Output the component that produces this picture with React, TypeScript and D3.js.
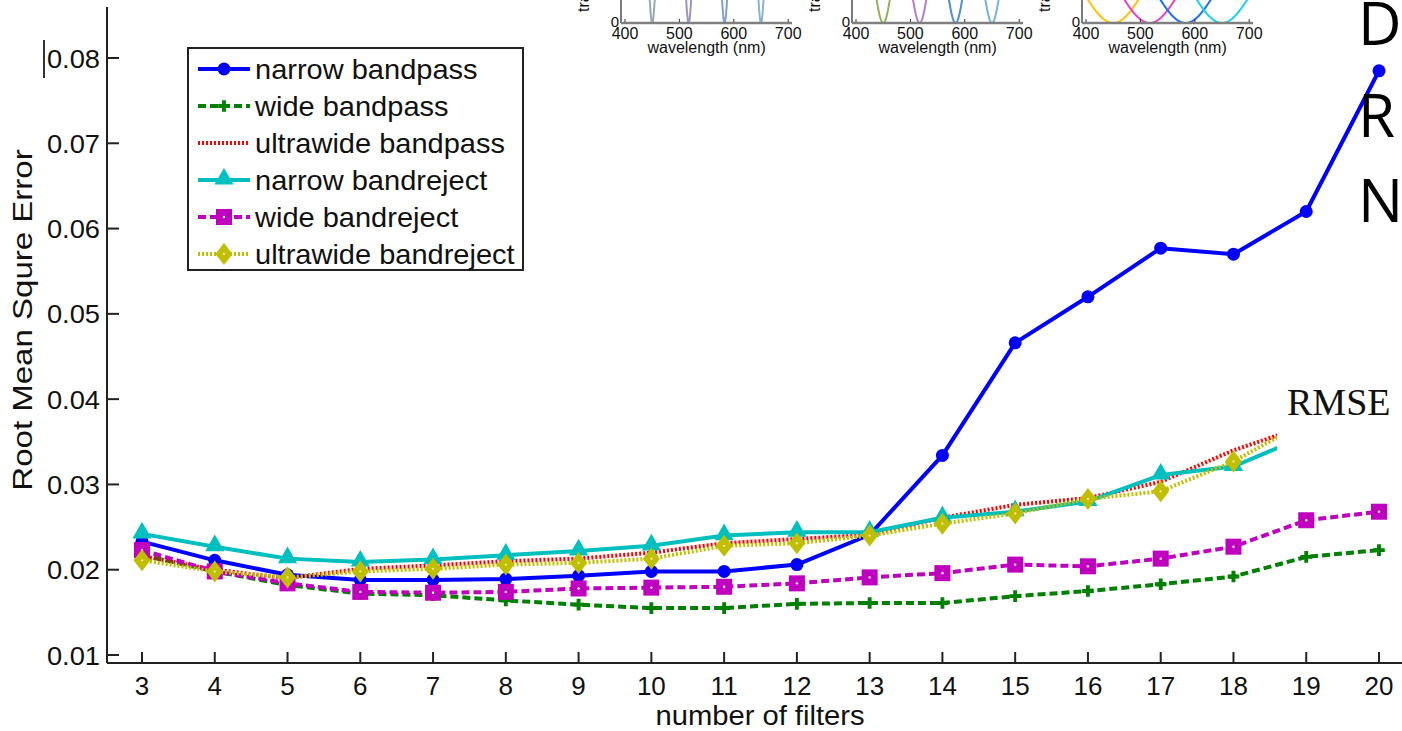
import React from 'react';
import * as d3 from 'd3';

// ---------- data ----------
const filterCounts = [3, 4, 5, 6, 7, 8, 9, 10, 11, 12, 13, 14, 15, 16, 17, 18, 19, 20];
const narrowBandpass = [0.0233, 0.0211, 0.0194, 0.0188, 0.0188, 0.0189, 0.0193, 0.0198, 0.0198, 0.0206, 0.0241, 0.0334, 0.0466, 0.052, 0.0577, 0.057, 0.062, 0.0785];
const wideBandpass = [0.0217, 0.0198, 0.0182, 0.0172, 0.017, 0.0164, 0.0159, 0.0155, 0.0155, 0.016, 0.0161, 0.0161, 0.0169, 0.0175, 0.0183, 0.0192, 0.0215, 0.0223];
const ultrawideBandpass = [0.0216, 0.02, 0.019, 0.0201, 0.0205, 0.021, 0.0213, 0.022, 0.0231, 0.0236, 0.0241, 0.0261, 0.0276, 0.0284, 0.0303, 0.034, 0.0369, 0.040];
const narrowBandreject = [0.0242, 0.0227, 0.0213, 0.0209, 0.0212, 0.0217, 0.0222, 0.0228, 0.0240, 0.0244, 0.0244, 0.0261, 0.0268, 0.028, 0.0311, 0.0321, 0.0357, 0.039];
const wideBandreject = [0.0223, 0.0198, 0.0184, 0.0174, 0.0173, 0.0174, 0.0178, 0.0179, 0.018, 0.0184, 0.0191, 0.0196, 0.0206, 0.0204, 0.0213, 0.0227, 0.0258, 0.0268];
const ultrawideBandreject = [0.0211, 0.0198, 0.0191, 0.0198, 0.0201, 0.0206, 0.0208, 0.0213, 0.0228, 0.0231, 0.024, 0.0254, 0.0266, 0.0283, 0.0292, 0.0327, 0.0374, 0.040];

const yTicks = [0.01, 0.02, 0.03, 0.04, 0.05, 0.06, 0.07, 0.08];
const seriesNames = ['narrow bandpass', 'wide bandpass', 'ultrawide bandpass', 'narrow bandreject', 'wide bandreject', 'ultrawide bandreject'];

// inset filter models
const insetCenters = [450, 517, 583, 650];
const insetTicks = [400, 500, 600, 700];
const insetWidths = [5.7, 15, 57];
const insetColors = [
  ['#93abb6', '#9d95c9', '#7fa1cf', '#8db2d6'],
  ['#8fb456', '#b57dca', '#4e8ed5', '#78b3da'],
  ['#ffc20a', '#e545c4', '#1f6ff2', '#16d3f5'],
];
const insetAxisX = [621, 852, 1082];

// ---------- styles ----------
const FONT = 'Liberation Sans, Arial, Helvetica, sans-serif';
const styles = [
  { color: '#0000ff', dash: null, marker: 'circle' },
  { color: '#008000', dash: '8 4', marker: 'cross' },
  { color: '#ff0000', dash: '2 2', marker: 'none' },
  { color: '#00bfbf', dash: null, marker: 'triangle' },
  { color: '#bf00bf', dash: '8 4', marker: 'square' },
  { color: '#bfbf00', dash: '2 2', marker: 'diamond' },
];
const seriesValues = [narrowBandpass, wideBandpass, ultrawideBandpass, narrowBandreject, wideBandreject, ultrawideBandreject];

function T({ x, y, size, anchor = 'start', sx = 1, rotate = 0, family = FONT, fill = '#111', children }: any) {
  return (
    <g transform={`translate(${x},${y}) rotate(${rotate}) scale(${sx},1)`}>
      <text x={0} y={0} fontSize={size} fontFamily={family} textAnchor={anchor} fill={fill}>
        {children}
      </text>
    </g>
  );
}

function Marker({ kind, x, y, color }: { kind: string; x: number; y: number; color: string }) {
  if (kind === 'circle') return <circle cx={x} cy={y} r={6.5} fill={color} />;
  if (kind === 'cross') {
    const p = d3.symbol().type(d3.symbolCross).size(75)() as string;
    return <path d={p} transform={`translate(${x},${y})`} fill={color} />;
  }
  if (kind === 'triangle') {
    const p = d3.symbol().type(d3.symbolTriangle).size(160)() as string;
    return <path d={p} transform={`translate(${x},${y - 1})`} fill={color} />;
  }
  if (kind === 'square') {
    return (
      <g>
        <rect x={x - 8} y={y - 8} width={16} height={16} fill={color} />
        <circle cx={x} cy={y} r={1.2} fill="#fff" />
      </g>
    );
  }
  if (kind === 'diamond') {
    return (
      <g>
        <path d={`M${x},${y - 11}L${x + 8.5},${y}L${x},${y + 11}L${x - 8.5},${y}Z`} fill={color} />
        <circle cx={x} cy={y} r={1.2} fill="#f4e0a0" />
      </g>
    );
  }
  return null;
}

function Inset({ idx }: { idx: number }) {
  const x0 = insetAxisX[idx];
  const xs = d3.scaleLinear().domain([392.6, 707]).range([x0, x0 + 171]);
  const ys = d3.scaleLinear().domain([0, 1]).range([23, -60]);
  const sigma = insetWidths[idx];
  const lambdas = d3.range(392.6, 707, 0.5);
  const clipId = `inset-clip-${idx}`;
  return (
    <g>
      <defs>
        <clipPath id={clipId}>
          <rect x={x0} y={0} width={171} height={23} />
        </clipPath>
      </defs>
      <g clipPath={`url(#${clipId})`}>
        {insetCenters.map((c, i) => {
          const l = d3
            .line<number>()
            .x((w) => xs(w))
            .y((w) => ys(1 - Math.exp(-((w - c) ** 2) / (2 * sigma * sigma))));
          return <path key={i} d={l(lambdas) as string} fill="none" stroke={insetColors[idx][i]} strokeWidth={2} />;
        })}
      </g>
      <line x1={x0} x2={x0} y1={0} y2={23} stroke="#222" strokeWidth={1.2} />
      <line x1={x0} x2={x0 + 171} y1={23} y2={23} stroke="#7f7f7f" strokeWidth={2.5} />
      {insetTicks.map((t) => (
        <g key={t}>
          <line x1={xs(t)} x2={xs(t)} y1={22} y2={19} stroke="#333" strokeWidth={1} />
          <text x={xs(t)} y={39} fontSize={16} fontFamily={FONT} textAnchor="middle" fill="#111">
            {t}
          </text>
        </g>
      ))}
      <text x={x0 - 2} y={27} fontSize={15} fontFamily={FONT} textAnchor="end" fill="#111">
        0
      </text>
      <text x={xs(550)} y={53} fontSize={16} fontFamily={FONT} textAnchor="middle" fill="#111">
        wavelength (nm)
      </text>
      <text transform={`translate(${x0 - 32},12) rotate(-90)`} fontSize={16} fontFamily={FONT} fill="#111">
        transmission
      </text>
    </g>
  );
}

export default function App() {
  const W = 1402;
  const H = 731;
  const x = d3.scaleLinear().domain([3, 20]).range([142, 1379]);
  const y = d3.scaleLinear().domain([0.01, 0.08]).range([655, 58]);
  const axisX = 107;
  const axisY = 663;

  const legendX = 188;
  const legendY = 48;
  const rowH = 37;

  return (
    <svg width={W} height={H} style={{ position: 'absolute', left: 0, top: 0, background: '#fff' }}>
      <rect x={0} y={0} width={W} height={H} fill="#fff" />
      {/* insets */}
      {[0, 1, 2].map((i) => (
        <Inset key={i} idx={i} />
      ))}

      {/* axes */}
      <line x1={axisX} x2={axisX} y1={7} y2={axisY} stroke="#222" strokeWidth={2} />
      <line x1={axisX} x2={W} y1={axisY} y2={axisY} stroke="#222" strokeWidth={2} />
      {yTicks.map((t) => (
        <g key={t}>
          <line x1={axisX} x2={axisX + 12} y1={y(t)} y2={y(t)} stroke="#222" strokeWidth={2} />
          <T x={100} y={y(t) + 9.5} size={26} anchor="end" sx={1.05}>
            {t.toFixed(2)}
          </T>
        </g>
      ))}
      <line x1={44} x2={44} y1={40} y2={78} stroke="#333" strokeWidth={2} />
      {filterCounts.map((n) => (
        <g key={n}>
          <line x1={x(n)} x2={x(n)} y1={axisY} y2={axisY - 11} stroke="#222" strokeWidth={2} />
          <T x={x(n)} y={695} size={26} anchor="middle">
            {n}
          </T>
        </g>
      ))}
      <T x={760} y={725} size={27} anchor="middle" sx={1.08}>
        number of filters
      </T>
      <T x={32} y={320} size={28} anchor="middle" rotate={-90} sx={1.18}>
        Root Mean Squre Error
      </T>

      {/* series */}
      {seriesValues.map((vals, si) => {
        const st = styles[si];
        const line = d3
          .line<number>()
          .x((_, i) => x(filterCounts[i]))
          .y((v) => y(v));
        return (
          <g key={si}>
            <path d={line(vals) as string} fill="none" stroke={st.color} strokeWidth={4} strokeDasharray={st.dash ?? undefined} strokeLinejoin="round" />
            {vals.map((v, i) => (
              <Marker key={i} kind={st.marker} x={x(filterCounts[i])} y={y(v)} color={st.color} />
            ))}
          </g>
        );
      })}

      {/* white mask with RMSE label */}
      <rect x={1277} y={300} width={125} height={200} fill="#fff" />
      <T x={1287} y={415} size={38} family="Liberation Serif, Times New Roman, serif">
        RMSE
      </T>

      {/* D R N letters */}
      {['D', 'R', 'N'].map((c, i) => (
        <T key={c} x={1358} y={[45, 137, 222][i]} size={60} family="Open Sans, Noto Sans, sans-serif" fill="#000">
          {c}
        </T>
      ))}

      {/* legend */}
      <rect x={legendX} y={legendY} width={335} height={222} fill="#fff" stroke="#222" strokeWidth={2} />
      {seriesNames.map((name, i) => {
        const cy = legendY + 21 + i * rowH;
        const st = styles[i];
        return (
          <g key={name}>
            <line x1={198} x2={250} y1={cy} y2={cy} stroke={st.color} strokeWidth={4} strokeDasharray={st.dash ?? undefined} />
            <Marker kind={st.marker} x={224} y={cy} color={st.color} />
            <T x={255} y={cy + 9.5} size={27} sx={1.075}>
              {name}
            </T>
          </g>
        );
      })}
    </svg>
  );
}
